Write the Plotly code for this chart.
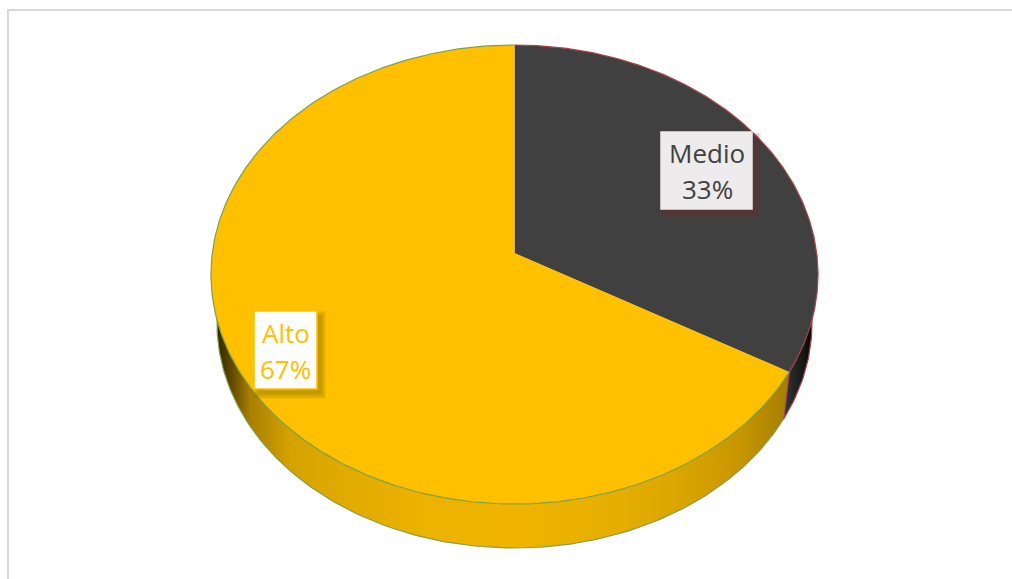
import numpy as np
import plotly.graph_objects as go

categories = ["Medio", "Alto"]
values = [33.3, 66.7]
face_colors = ["#404040", "#FFC000"]
rim_colors = ["#A8454F", "#7FA050"]
label_colors = ["#404040", "#FFC000"]
label_fills = ["#EDEBEB", "#FFFFFF"]
label_shadows = ["rgba(125,40,40,0.07)", "rgba(140,120,10,0.10)"]
label_borders = ["#EDEBEB", "#FFC000"]
label_boxes = [(661, 132, 752, 209), (254, 311, 317, 389)]
label_xy = [(707, 153, 189), (285.5, 333, 369)]

W, H = 1012, 579
TOP = dict(cx=514.5, a=302.2, t=45, m=253, b=504)
BOT = dict(cx=514.5, a=296.2, t=98, m=302, b=548)
PERSP = -0.0937


def project(theta, g):
    """Clockwise angle from 12 o'clock (radians) on a tilted disc -> page pixels."""
    u, v = -np.cos(theta), np.sin(theta)
    B = g["m"]
    A = g["b"] * (1 + PERSP) - B
    den = 1 + PERSP * u
    return g["cx"] + g["a"] * v / den, (A * u + B) / den


total = sum(values)
split = 2 * np.pi * values[0] / total
rad = np.deg2rad
fig = go.Figure()


def poly(xs, ys, **kw):
    fig.add_trace(go.Scatter(x=xs, y=ys, mode="lines", hoverinfo="skip", showlegend=False, **kw))


# Side walls -------------------------------------------------------------
arc = np.linspace(split, rad(268), 160)
bx, by = project(arc, BOT)
tx, ty = project(np.array([split]), TOP)
poly(np.r_[tx, bx, [514.5]], np.r_[ty, by, [TOP["m"]]], fill="toself",
     line=dict(width=0, color="rgba(0,0,0,0)"),
     fillgradient=dict(type="horizontal", start=216, stop=792, colorscale=[
         [0.0, "#2E2400"], [0.024, "#5A4400"], [0.059, "#A87F00"], [0.128, "#D5A200"],
         [0.215, "#E0AA00"], [0.354, "#ECB200"], [0.519, "#F0B400"], [0.70, "#E5AE00"],
         [0.806, "#DBA500"], [0.91, "#C79700"], [0.988, "#A88000"], [1.0, "#987400"]]))
poly(bx, by, line=dict(width=1.2, color=rim_colors[1]))
poly(np.r_[tx, bx[:1]], np.r_[ty, by[:1]], line=dict(width=1.2, color=rim_colors[1]))

arc2 = np.linspace(split, rad(85), 40)
dx, dy = project(arc2, BOT)
poly(np.r_[tx, dx, [514.5]], np.r_[ty, dy, [TOP["m"]]], fill="toself",
     line=dict(width=0, color="rgba(0,0,0,0)"),
     fillgradient=dict(type="horizontal", start=783, stop=812, colorscale=[
         [0.0, "#3A3A3A"], [0.35, "#262626"], [0.75, "#141414"], [1.0, "#050505"]]))
poly(np.r_[tx, dx[:1]], np.r_[ty, dy[:1]], line=dict(width=1.2, color=rim_colors[0]))
poly(dx, dy, line=dict(width=1.2, color=rim_colors[0]))

# Top faces --------------------------------------------------------------
start = 0.0
for name, val, col, rim in zip(categories, values, face_colors, rim_colors):
    sweep = 2 * np.pi * val / total
    th = np.linspace(start, start + sweep, 300)
    x, y = project(th, TOP)
    poly(np.r_[[TOP["cx"]], x, [TOP["cx"]]], np.r_[[TOP["m"]], y, [TOP["m"]]],
         fill="toself", fillcolor=col, line=dict(width=0, color=col))
    poly(x, y, line=dict(width=1.2, color=rim))
    start += sweep

# Labels -----------------------------------------------------------------
shapes = [dict(type="rect", x0=8, y0=10, x1=W + 20, y1=H + 20,
               line=dict(color="#D9D9D9", width=2), layer="below")]
for (x0, y0, x1, y1), shadow, fill_col, border in zip(label_boxes, label_shadows, label_fills, label_borders):
    for grow in (5, 4, 3, 2, 1, 0):
        shapes.append(dict(type="rect", x0=x0 + 4 - grow, y0=y0 + 5 - grow,
                           x1=x1 + 4 + grow, y1=y1 + 5 + grow,
                           fillcolor=shadow, line=dict(width=0)))
    shapes.append(dict(type="rect", x0=x0, y0=y0, x1=x1, y1=y1, fillcolor=fill_col,
                       line=dict(color=border, width=1.5)))

annotations = []
for c, v, lc, (px, y1, y2) in zip(categories, values, label_colors, label_xy):
    for text, py in ((c, y1), (f"{round(100 * v / total)}%", y2)):
        annotations.append(dict(x=px, y=py, text=text, showarrow=False,
                                font=dict(family="Open Sans", size=26, color=lc),
                                xanchor="center", yanchor="middle"))

fig.update_layout(
    width=W, height=H, margin=dict(l=0, r=0, t=0, b=0), autosize=False,
    paper_bgcolor="white", plot_bgcolor="white", showlegend=False,
    xaxis=dict(range=[0, W], visible=False, fixedrange=True),
    yaxis=dict(range=[H, 0], visible=False, fixedrange=True),
    shapes=shapes, annotations=annotations,
)
fig.write_html("out.html", config=dict(displayModeBar=False),
               post_script="document.body.style.margin='0';document.documentElement.style.overflow='hidden';")
